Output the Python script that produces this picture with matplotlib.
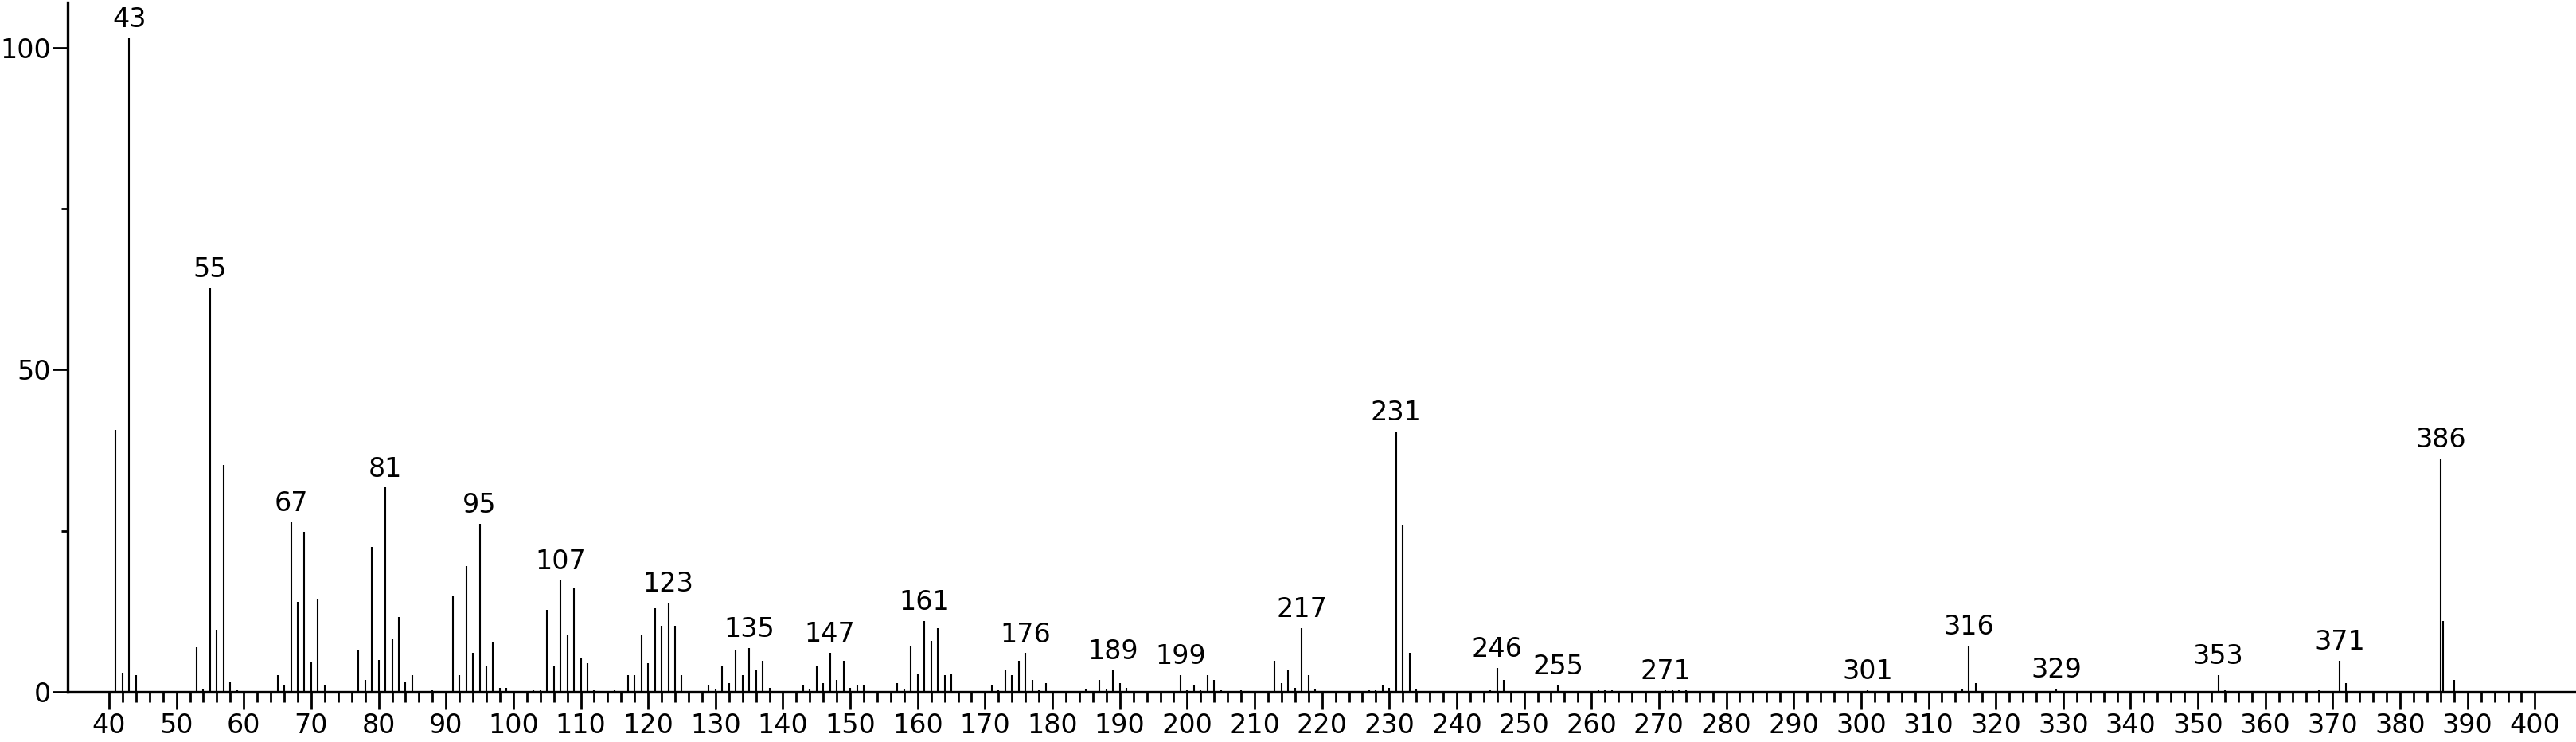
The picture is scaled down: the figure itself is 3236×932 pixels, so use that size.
import matplotlib
matplotlib.use("Agg")
import matplotlib.pyplot as plt
from matplotlib.ticker import MultipleLocator, FixedLocator

# m/z values and relative intensities
mz = [41, 42, 43, 44, 53, 54, 55, 56, 57, 58, 59,
      65, 66, 67, 68, 69, 70, 71, 72, 77, 78, 79, 80, 81, 82, 83, 84, 85, 88,
      91, 92, 93, 94, 95, 96, 97, 98, 99, 103, 104, 105, 106, 107, 108, 109, 110, 111, 112,
      115, 117, 118, 119, 120, 121, 122, 123, 124, 125, 129, 130, 131, 132, 133, 134, 135,
      136, 137, 138, 143, 144, 145, 146, 147, 148, 149, 150, 151, 152,
      157, 158, 159, 160, 161, 162, 163, 164, 165, 171, 172, 173, 174, 175, 176, 177, 178, 179,
      185, 187, 188, 189, 190, 191, 199, 200, 201, 202, 203, 204, 205, 208,
      213, 214, 215, 216, 217, 218, 219, 227, 228, 229, 230, 231, 232, 233, 234,
      245, 246, 247, 255, 261, 262, 263, 271, 272, 273, 274, 301, 315, 316, 317, 329,
      353, 354, 368, 371, 372, 386, 386.35, 388]
intensity = [40.6, 3.0, 101.5, 2.6, 6.9, 0.4, 62.7, 9.6, 35.2, 1.5, 0.2,
             2.6, 1.1, 26.3, 14.0, 24.8, 4.7, 14.3, 1.1, 6.5, 1.8, 22.5, 5.0, 31.7, 8.2, 11.6, 1.5, 2.6, 0.3,
             14.9, 2.6, 19.5, 6.1, 26.1, 4.1, 7.6, 0.6, 0.6, 0.2, 0.2, 12.7, 4.1, 17.3, 8.8, 16.1, 5.3, 4.5, 0.3,
             0.2, 2.6, 2.6, 8.8, 4.5, 13.0, 10.3, 13.8, 10.3, 2.6, 1.0, 0.5, 4.1, 1.4, 6.4, 2.6, 6.8,
             3.4, 4.8, 0.6, 1.0, 0.4, 4.1, 1.4, 6.1, 1.8, 4.8, 0.6, 1.0, 1.0,
             1.4, 0.4, 7.2, 2.9, 11.0, 7.9, 9.9, 2.6, 2.9, 1.0, 0.3, 3.3, 2.6, 4.8, 6.0, 1.8, 0.3, 1.4,
             0.4, 1.8, 0.5, 3.3, 1.4, 0.6, 2.6, 0.3, 1.0, 0.3, 2.6, 1.8, 0.3, 0.3,
             4.8, 1.4, 3.3, 0.6, 9.9, 2.6, 0.5, 0.2, 0.3, 1.0, 0.6, 40.4, 25.8, 6.1, 0.5,
             0.3, 3.7, 1.8, 1.0, 0.2, 0.2, 0.2, 0.2, 0.2, 0.2, 0.2, 0.2, 0.5, 7.2, 1.4, 0.5,
             2.6, 0.2, 0.2, 4.8, 1.4, 36.2, 11.0, 1.8]

labeled_peaks = [43, 55, 67, 81, 95, 107, 123, 135, 147, 161, 176, 189, 199, 217,
                 231, 246, 255, 271, 301, 316, 329, 353, 371, 386]

x_major = list(range(40, 401, 10))
x_minor = [v for v in range(42, 400, 2) if v % 10 != 0]
y_major = [0, 50, 100]
y_minor = [25, 75]

W, H = 3236, 932
fig = plt.figure(figsize=(W / 100, H / 100), dpi=100)
left_px, base_px, top_px = 85, 869, 3
ax = fig.add_axes([left_px / W, (H - base_px) / H, 1 - left_px / W, (base_px - top_px) / H])

ax.vlines(mz, 0, intensity, color="black", lw=1.5)

lookup = dict(zip(mz, intensity))
for p in labeled_peaks:
    ax.annotate(str(p), xy=(p, lookup[p]), xytext=(0, 10), textcoords="offset points",
                ha="center", va="baseline", fontsize=24, color="black")

ax.set_xlim(33.86, 406.1)
ax.set_ylim(0, 107.0)

for s in ["top", "right"]:
    ax.spines[s].set_visible(False)
for s in ["left", "bottom"]:
    ax.spines[s].set_linewidth(2.4)

ax.xaxis.set_major_locator(FixedLocator(x_major))
ax.xaxis.set_minor_locator(FixedLocator(x_minor))
ax.yaxis.set_major_locator(FixedLocator(y_major))
ax.yaxis.set_minor_locator(FixedLocator(y_minor))
ax.set_xticklabels([str(v) for v in x_major])
ax.set_yticklabels([str(v) for v in y_major])

ax.tick_params(axis="x", which="major", direction="out", length=16, width=2.0, labelsize=24, pad=3)
ax.tick_params(axis="x", which="minor", direction="out", length=9, width=2.0)
ax.tick_params(axis="y", which="major", direction="out", length=14, width=2.0, labelsize=24, pad=1)
ax.tick_params(axis="y", which="minor", direction="out", length=6, width=2.0)

fig.savefig("out.png", dpi=100, facecolor="white")
